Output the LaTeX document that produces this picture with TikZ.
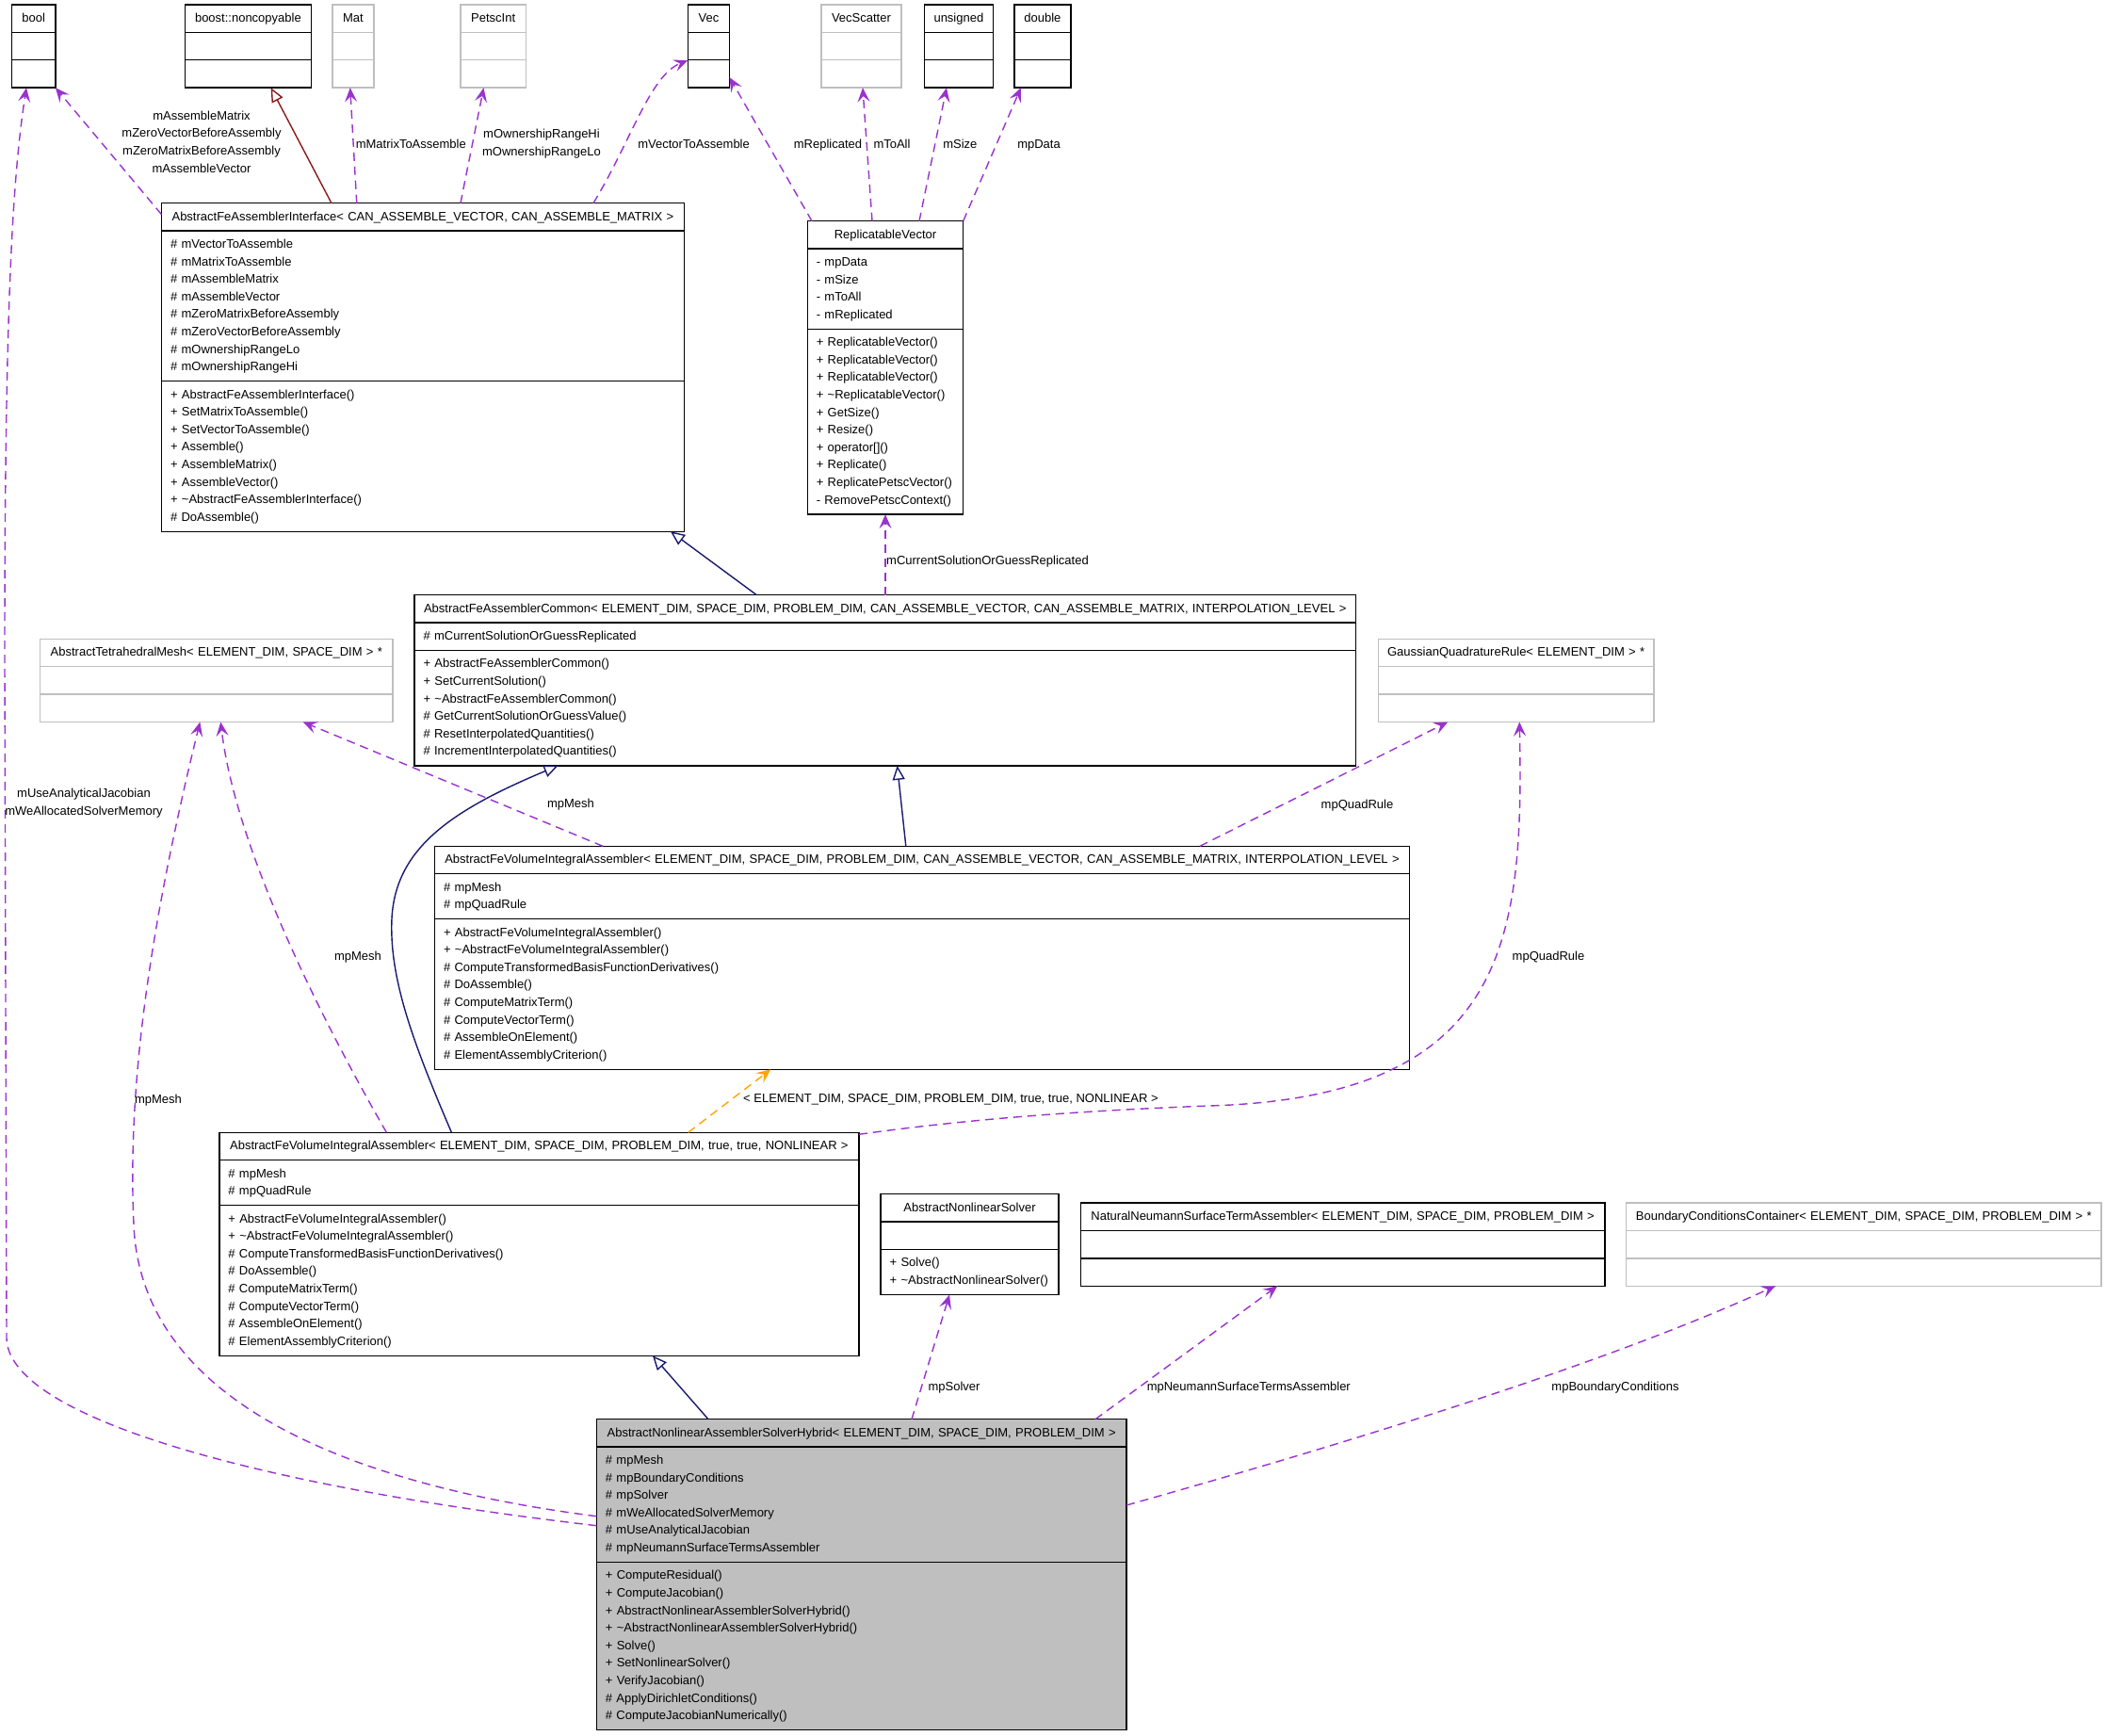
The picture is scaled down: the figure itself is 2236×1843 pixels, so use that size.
\documentclass[tikz,border=0pt]{standalone}
\usepackage{fontspec}
\setmainfont{Liberation Sans}
\usetikzlibrary{arrows.meta,fit,calc}
\definecolor{dox}{HTML}{9A32CD}
\definecolor{navyline}{HTML}{191970}
\definecolor{fireline}{HTML}{8B1A1A}
\definecolor{orngline}{HTML}{FFA500}
\definecolor{ugray}{HTML}{BFBFBF}
\definecolor{hybfill}{HTML}{BFBFBF}
\tikzset{
  cellbase/.style={draw=black, line width=1.4pt, rectangle, inner ysep=5.4pt, outer sep=0pt,
    font=\fontsize{13}{18.6}\selectfont,
    execute at begin node={\hyphenpenalty=10000\exhyphenpenalty=10000\strut},
    execute at end node=\strut},
  tcell/.style={cellbase, inner xsep=2pt, align=center},
  scell/.style={cellbase, inner xsep=9.5pt, align=left},
  lbl/.style={font=\fontsize{13}{18.6}\selectfont, inner sep=0pt, align=center,
    execute at begin node=\strut, execute at end node=\strut},
  dep/.style={draw=dox, line width=1.4pt, dash pattern=on 9pt off 6pt,
    -{Stealth[length=15pt,width=13pt,inset=6pt]}},
  inh/.style={draw=navyline, line width=1.4pt, -{Triangle[length=15pt,width=13pt,fill=white]}},
  inhred/.style={draw=fireline, line width=1.4pt, -{Triangle[length=15pt,width=13pt,fill=white]}},
  tmpl/.style={draw=orngline, line width=1.4pt, dash pattern=on 9pt off 6pt,
    -{Stealth[length=15pt,width=13pt,inset=6pt]}},
}
% #1 name, #2 left x, #3 top y, #4 width, #5 extra style, #6 title, #7 attributes, #8 methods
\newcommand\umlclass[8]{%
  \pgfmathsetmacro\umltw{#4-4}%
  \pgfmathsetmacro\umlsw{#4-19}%
  \node[tcell,#5,minimum width=#4pt,text width=\umltw pt,anchor=north west] (#1-t) at (#2,#3) {#6};
  \node[scell,#5,minimum width=#4pt,text width=\umlsw pt,anchor=north west] (#1-a) at (#1-t.south west) {#7};
  \node[scell,#5,minimum width=#4pt,text width=\umlsw pt,anchor=north west] (#1-m) at (#1-a.south west) {#8};
  \node[fit=(#1-t)(#1-m),inner sep=0pt,outer sep=0pt] (#1) {};
}
\begin{document}
\begin{tikzpicture}[x=1pt,y=-1pt]
\fill[white] (0,0) rectangle (2236,1843);
\useasboundingbox (0,0) rectangle (2236,1843);

% top row
\umlclass{bool}{12.6}{5}{46.3}{}{bool}{}{}
\umlclass{noncop}{196.4}{5}{134}{}{boost::noncopyable}{}{}
\umlclass{mat}{352.9}{5}{44.1}{draw=ugray}{Mat}{}{}
\umlclass{petsc}{489}{5}{69.4}{draw=ugray}{PetscInt}{}{}
\umlclass{vec}{730.3}{5}{44.2}{}{Vec}{}{}
\umlclass{vecsc}{872}{5}{84.9}{draw=ugray}{VecScatter}{}{}
\umlclass{uns}{981.4}{5}{73}{}{unsigned}{}{}
\umlclass{dbl}{1076.8}{5}{60.2}{}{double}{}{}

\umlclass{iface}{171.5}{215.7}{554.9}{}{AbstractFeAssemblerInterface< CAN\_ASSEMBLE\_VECTOR, CAN\_ASSEMBLE\_MATRIX >}%
{\# mVectorToAssemble\\\# mMatrixToAssemble\\\# mAssembleMatrix\\\# mAssembleVector\\\# mZeroMatrixBeforeAssembly\\\# mZeroVectorBeforeAssembly\\\# mOwnershipRangeLo\\\# mOwnershipRangeHi}%
{+ AbstractFeAssemblerInterface()\\+ SetMatrixToAssemble()\\+ SetVectorToAssemble()\\+ Assemble()\\+ AssembleMatrix()\\+ AssembleVector()\\+ \textasciitilde AbstractFeAssemblerInterface()\\\# DoAssemble()}

\umlclass{rv}{857.3}{234.7}{165.4}{}{ReplicatableVector}%
{- mpData\\- mSize\\- mToAll\\- mReplicated}%
{+ ReplicatableVector()\\+ ReplicatableVector()\\+ ReplicatableVector()\\+ \textasciitilde ReplicatableVector()\\+ GetSize()\\+ Resize()\\+ operator[]()\\+ Replicate()\\+ ReplicatePetscVector()\\- RemovePetscContext()}

\umlclass{common}{440}{631.7}{999.5}{}{AbstractFeAssemblerCommon< ELEMENT\_DIM, SPACE\_DIM, PROBLEM\_DIM, CAN\_ASSEMBLE\_VECTOR, CAN\_ASSEMBLE\_MATRIX, INTERPOLATION\_LEVEL >}%
{\# mCurrentSolutionOrGuessReplicated}%
{+ AbstractFeAssemblerCommon()\\+ SetCurrentSolution()\\+ \textasciitilde AbstractFeAssemblerCommon()\\\# GetCurrentSolutionOrGuessValue()\\\# ResetInterpolatedQuantities()\\\# IncrementInterpolatedQuantities()}

\umlclass{mesh}{42.7}{678.3}{374.3}{draw=ugray}{AbstractTetrahedralMesh< ELEMENT\_DIM, SPACE\_DIM > *}{}{}
\umlclass{gauss}{1463.3}{678.3}{292.7}{draw=ugray}{GaussianQuadratureRule< ELEMENT\_DIM > *}{}{}

\umlclass{vgen}{461.5}{898.3}{1035}{}{AbstractFeVolumeIntegralAssembler< ELEMENT\_DIM, SPACE\_DIM, PROBLEM\_DIM, CAN\_ASSEMBLE\_VECTOR, CAN\_ASSEMBLE\_MATRIX, INTERPOLATION\_LEVEL >}%
{\# mpMesh\\\# mpQuadRule}%
{+ AbstractFeVolumeIntegralAssembler()\\+ \textasciitilde AbstractFeVolumeIntegralAssembler()\\\# ComputeTransformedBasisFunctionDerivatives()\\\# DoAssemble()\\\# ComputeMatrixTerm()\\\# ComputeVectorTerm()\\\# AssembleOnElement()\\\# ElementAssemblyCriterion()}

\umlclass{vtrue}{232.9}{1202.3}{679}{}{AbstractFeVolumeIntegralAssembler< ELEMENT\_DIM, SPACE\_DIM, PROBLEM\_DIM, true, true, NONLINEAR >}%
{\# mpMesh\\\# mpQuadRule}%
{+ AbstractFeVolumeIntegralAssembler()\\+ \textasciitilde AbstractFeVolumeIntegralAssembler()\\\# ComputeTransformedBasisFunctionDerivatives()\\\# DoAssemble()\\\# ComputeMatrixTerm()\\\# ComputeVectorTerm()\\\# AssembleOnElement()\\\# ElementAssemblyCriterion()}

\umlclass{ans}{935.1}{1267.7}{188.9}{}{AbstractNonlinearSolver}{}{+ Solve()\\+\nobreakspace\textasciitilde AbstractNonlinearSolver()}
\umlclass{neu}{1147.4}{1277}{556.5}{}{NaturalNeumannSurfaceTermAssembler< ELEMENT\_DIM, SPACE\_DIM, PROBLEM\_DIM >}{}{}
\umlclass{bc}{1726.6}{1277}{504.4}{draw=ugray}{BoundaryConditionsContainer< ELEMENT\_DIM, SPACE\_DIM, PROBLEM\_DIM > *}{}{}

\umlclass{hyb}{633.4}{1506.7}{562.6}{fill=hybfill}{AbstractNonlinearAssemblerSolverHybrid< ELEMENT\_DIM, SPACE\_DIM, PROBLEM\_DIM >}%
{\# mpMesh\\\# mpBoundaryConditions\\\# mpSolver\\\# mWeAllocatedSolverMemory\\\# mUseAnalyticalJacobian\\\# mpNeumannSurfaceTermsAssembler}%
{+ ComputeResidual()\\+ ComputeJacobian()\\+ AbstractNonlinearAssemblerSolverHybrid()\\+ \textasciitilde AbstractNonlinearAssemblerSolverHybrid()\\+ Solve()\\+ SetNonlinearSolver()\\+ VerifyJacobian()\\\# ApplyDirichletConditions()\\\# ComputeJacobianNumerically()}

% connectors
\draw[dep] ([yshift=52pt]hyb.west) .. controls (250,1575) and (7,1500) .. (7,1420) -- (5,700) .. controls (5,330) and (13,190) .. ([xshift=-7.75pt]bool.south);
\draw[dep] ([yshift=-12pt]iface.north west) -- (bool.south east);
\draw[inhred] ([xshift=-97pt]iface.north) -- ([xshift=24.2pt]noncop.south);
\draw[dep] ([xshift=-70.2pt]iface.north) -- ([xshift=-3.2pt]mat.south);
\draw[dep] ([xshift=40pt]iface.north) -- ([xshift=-10.2pt]petsc.south);
\draw[dep] ([xshift=181pt]iface.north) .. controls (670,150) and (690,80) .. ([yshift=-15pt]vec.west);
\draw[dep] ([xshift=-78pt]rv.north) -- ([yshift=-33pt]vec.east);
\draw[dep] ([xshift=-14pt]rv.north) -- ([xshift=1.5pt]vecsc.south);
\draw[dep] ([xshift=36pt]rv.north) -- ([xshift=-12.9pt]uns.south);
\draw[dep] (rv.north east) -- ([xshift=-23pt]dbl.south);
\draw[inh] ([xshift=-136.35pt]common.north) -- ([xshift=-14.4pt]iface.south east);
\draw[dep] (rv.south |- common.north) -- (rv.south);
\draw[inh] ([xshift=-17.2pt]vgen.north) -- ([xshift=12.85pt]common.south);
\draw[dep] ([xshift=-339pt]vgen.north) -- ([xshift=91.85pt]mesh.south);
\draw[dep] ([xshift=295pt]vgen.north) -- ([xshift=-72.4pt]gauss.south);
\draw[inh] ([xshift=-93pt]vtrue.north) .. controls (440,1110) and (413,1040) .. (416,975) .. controls (420,900) and (480,860) .. ([xshift=152.5pt]common.south west);
\draw[dep] ([xshift=-162pt]vtrue.north) .. controls (340,1080) and (250,900) .. ([xshift=4.45pt]mesh.south);
\draw[tmpl] ([xshift=158.2pt]vtrue.north) -- ([xshift=-160.6pt]vgen.south);
\draw[dep] ([yshift=-2pt]vtrue.north east) .. controls (1050,1185) and (1180,1178) .. (1283,1174) .. controls (1600,1165) and (1618,1000) .. ([xshift=3.6pt]gauss.south);
\draw[inh] ([xshift=-162.7pt]hyb.north) -- ([xshift=120.6pt]vtrue.south);
\draw[dep] ([xshift=53.3pt]hyb.north) -- ([xshift=-21.5pt]ans.south);
\draw[dep] ([xshift=248.3pt]hyb.north) -- ([xshift=-69.3pt]neu.south);
\draw[dep] ([yshift=73.7pt]hyb.east) .. controls (1420,1535) and (1700,1450) .. ([xshift=-93.8pt]bc.south);
\draw[dep] ([yshift=62pt]hyb.west) .. controls (400,1580) and (150,1500) .. (142,1300) .. controls (135,1150) and (160,980) .. ([xshift=-17.5pt]mesh.south);

% labels
\node[lbl] (l1) at (89,853.8) {mUseAnalyticalJacobian\\mWeAllocatedSolverMemory};
\node[lbl] (l2) at (214,153.3) {mAssembleMatrix\\mZeroVectorBeforeAssembly\\mZeroMatrixBeforeAssembly\\mAssembleVector};
\node[lbl] (l3) at (436.3,153.3) {mMatrixToAssemble};
\node[lbl] (l4) at (575,153.8) {mOwnershipRangeHi\\mOwnershipRangeLo};
\node[lbl] (l5) at (736.6,153.3) {mVectorToAssemble};
\node[lbl] (l6) at (879,153.3) {mReplicated};
\node[lbl] (l7) at (947,153.3) {mToAll};
\node[lbl] (l8) at (1019.3,153.3) {mSize};
\node[lbl] (l9) at (1103,153.3) {mpData};
\node[lbl,anchor=west] (l10) at (941,596) {mCurrentSolutionOrGuessReplicated};
\node[lbl] (l11) at (606,854) {mpMesh};
\node[lbl] (l12) at (1441,854.6) {mpQuadRule};
\node[lbl] (l13) at (380,1015.7) {mpMesh};
\node[lbl] (l14) at (1644,1015.7) {mpQuadRule};
\node[lbl] (l15) at (168,1167.7) {mpMesh};
\node[lbl,anchor=west] (l16) at (789,1167) {< ELEMENT\_DIM, SPACE\_DIM, PROBLEM\_DIM, true, true, NONLINEAR >};
\node[lbl] (l17) at (1013,1472.7) {mpSolver};
\node[lbl] (l18) at (1325.8,1472.7) {mpNeumannSurfaceTermsAssembler};
\node[lbl] (l19) at (1715,1472.7) {mpBoundaryConditions};
\end{tikzpicture}
\end{document}
